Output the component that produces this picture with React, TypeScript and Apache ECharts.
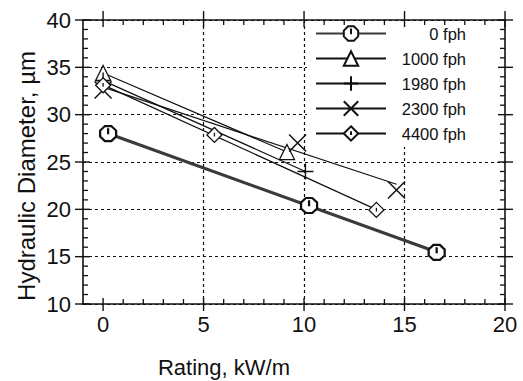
import React, { useEffect, useRef } from "react";
import * as echarts from "echarts";

const FONT = "'Liberation Sans', Arial, Helvetica, sans-serif";

const seriesNames = ["0 fph", "1000 fph", "1980 fph", "2300 fph", "4400 fph"];
const rating0 = [0.25, 10.25, 16.6];
const diam0 = [28, 20.4, 15.45];
const rating1000 = [0, 9.15];
const diam1000 = [34.4, 26.05];
const rating1980 = [0, 10.07];
const diam1980 = [33.6, 24.0];
const rating2300 = [0, 9.68, 14.6];
const diam2300 = [32.6, 27.0, 22.05];
const rating4400 = [0, 5.54, 13.6];
const diam4400 = [33.1, 27.86, 19.94];

const X_MIN = -1;
const X_MAX = 20;
const Y_MIN = 10;
const Y_MAX = 40;
const xMajorTicks = [0, 5, 10, 15, 20];
const xMinorTicks = [1, 2, 3, 4, 6, 7, 8, 9, 11, 12, 13, 14, 16, 17, 18, 19];
const xGridValues = [5, 10, 15];
const yMajorTicks = [10, 15, 20, 25, 30, 35, 40];
const yMinorTicks = [11, 12, 13, 14, 16, 17, 18, 19, 21, 22, 23, 24, 26, 27, 28, 29, 31, 32, 33, 34, 36, 37, 38, 39];

const SYM_OCT = "path://M3,0L7,0L10,3L10,7L7,10L3,10L0,7L0,3Z M5,1.5L5,5.5";
const SYM_PLUS = "path://M5,0L5,10M0,5L10,5";
const SYM_CROSS = "path://M0,0L10,10M10,0L0,10";
const SYM_DIAMOND = "path://M5,0L10,5L5,10L0,5Z M5,3.5L5,6";

function fit(xs: number[], ys: number[]) {
  const n = xs.length;
  const mx = xs.reduce((a, b) => a + b, 0) / n;
  const my = ys.reduce((a, b) => a + b, 0) / n;
  let sxy = 0;
  let sxx = 0;
  for (let i = 0; i < n; i++) {
    sxy += (xs[i] - mx) * (ys[i] - my);
    sxx += (xs[i] - mx) * (xs[i] - mx);
  }
  const slope = sxy / sxx;
  const b = my - slope * mx;
  const x0 = Math.min(...xs);
  const x1 = Math.max(...xs);
  return [
    [x0, b + slope * x0],
    [x1, b + slope * x1],
  ];
}

const groups = [
  { name: seriesNames[0], xs: rating0, ys: diam0, symbol: SYM_OCT, size: [16, 15], lineColor: "#3a3a3a", lineWidth: 3.2, bw: 2.2 },
  { name: seriesNames[1], xs: rating1000, ys: diam1000, symbol: "triangle", size: 15, lineColor: "#111", lineWidth: 1.2, bw: 1.3 },
  { name: seriesNames[2], xs: rating1980, ys: diam1980, symbol: SYM_PLUS, size: 16, lineColor: "#111", lineWidth: 1.2, bw: 1.4 },
  { name: seriesNames[3], xs: rating2300, ys: diam2300, symbol: SYM_CROSS, size: 17, lineColor: "#111", lineWidth: 1.2, bw: 1.5 },
  { name: seriesNames[4], xs: rating4400, ys: diam4400, symbol: SYM_DIAMOND, size: 15, lineColor: "#111", lineWidth: 1.2, bw: 1.3 },
];

const al = (show: boolean) => ({ show, onZero: false, lineStyle: { color: "#111", width: 1.6 } });
const dash = () => ({ show: true, lineStyle: { color: "#111", width: 1.2, type: [3, 3] } });

// tick marks drawn as thin filled rects placed on the axes through the chart's scales
const tickSeries = (data: number[][], size: number[], offset: number[]) => ({
  type: "scatter",
  data,
  symbol: "rect",
  symbolSize: size,
  symbolOffset: offset,
  itemStyle: { color: "#111", borderWidth: 0, opacity: 1 },
  clip: false,
  silent: true,
  z: 10,
});

export default function App() {
  const ref = useRef<HTMLDivElement>(null);
  useEffect(() => {
    if (!ref.current) return;
    const chart = echarts.init(ref.current, null, { renderer: "svg" });
    const bx = () => ({ type: "value", min: X_MIN, max: X_MAX, axisTick: { show: false }, axisLabel: { show: false }, splitLine: { show: false } });
    const by = () => ({ type: "value", min: Y_MIN, max: Y_MAX, interval: 5, axisTick: { show: false }, axisLabel: { show: false }, splitLine: { show: false } });
    const series: any[] = [];
    groups.forEach((g) => {
      series.push({
        name: g.name,
        type: "line",
        data: fit(g.xs, g.ys),
        showSymbol: false,
        symbol: g.symbol,
        lineStyle: { color: g.lineColor, width: g.lineWidth },
        itemStyle: { color: "#fff", borderColor: "#111", borderWidth: g.bw },
        z: 2,
      });
      series.push({
        name: g.name,
        type: "scatter",
        data: g.xs.map((x, i) => [x, g.ys[i]]),
        symbol: g.symbol,
        symbolSize: g.size,
        itemStyle: { color: "#fff", borderColor: "#111", borderWidth: g.bw, opacity: 1 },
        z: 3,
      });
    });
    series.push(tickSeries(xMajorTicks.map((t) => [t, Y_MIN]), [1.4, 13], [0, 0.5]));
    series.push(tickSeries(xMinorTicks.map((t) => [t, Y_MIN]), [1.3, 5], [0, -2.5]));
    series.push(tickSeries(xMajorTicks.map((t) => [t, Y_MAX]), [1.4, 16], [0, -1]));
    series.push(tickSeries(xMinorTicks.map((t) => [t, Y_MAX]), [1.3, 5], [0, 2.5]));
    series.push(tickSeries(yMajorTicks.map((t) => [X_MIN, t]), [15, 1.4], [-0.5, 0]));
    series.push(tickSeries(yMinorTicks.map((t) => [X_MIN, t]), [5, 1.3], [2.5, 0]));
    series.push(tickSeries(yMajorTicks.map((t) => [X_MAX, t]), [15, 1.4], [0.5, 0]));
    series.push(tickSeries(yMinorTicks.map((t) => [X_MAX, t]), [5, 1.3], [-2.5, 0]));
    chart.setOption({
      animation: false,
      grid: { left: 83, right: 18, top: 20, bottom: 77 },
      xAxis: [
        {
          ...bx(),
          position: "bottom",
          axisLine: al(true),
          axisLabel: { show: true, customValues: xMajorTicks, fontSize: 22, fontFamily: FONT, color: "#111", margin: 9 },
        },
        { ...bx(), position: "top", z: 10, axisLine: al(true) },
        { ...bx(), position: "bottom", axisLine: al(false), axisTick: { show: false, customValues: xGridValues }, splitLine: dash() },
      ],
      yAxis: [
        {
          ...by(),
          position: "left",
          axisLine: al(true),
          axisLabel: { show: true, fontSize: 22, fontFamily: FONT, color: "#111", margin: 12 },
          splitLine: dash(),
        },
        { ...by(), position: "right", z: 10, axisLine: al(true) },
      ],
      legend: {
        orient: "vertical",
        left: 307,
        top: 21,
        itemWidth: 70,
        itemHeight: 18,
        itemGap: 8,
        padding: [4, 37, 5, 8],
        backgroundColor: "#fff",
        selectedMode: false,
        data: seriesNames,
        formatter: "{t|{name}}",
        textStyle: {
          rich: {
            t: { width: 75, align: "right", fontSize: 16.5, fontFamily: FONT, lineHeight: 20, color: "#111" },
          },
        },
      },
      graphic: [
        {
          type: "text",
          x: 224,
          y: 367,
          style: { text: "Rating, kW/m", fontSize: 22, fontFamily: FONT, fill: "#111", align: "center", verticalAlign: "middle" },
        },
        {
          type: "text",
          x: 26,
          y: 176,
          rotation: Math.PI / 2,
          style: { text: "Hydraulic Diameter, µm", fontSize: 24, fontFamily: FONT, fill: "#111", align: "center", verticalAlign: "middle" },
        },
      ],
      series,
    });
    return () => chart.dispose();
  }, []);
  return <div ref={ref} style={{ width: 523, height: 381, position: "absolute", left: 0, top: 0 }} />;
}
